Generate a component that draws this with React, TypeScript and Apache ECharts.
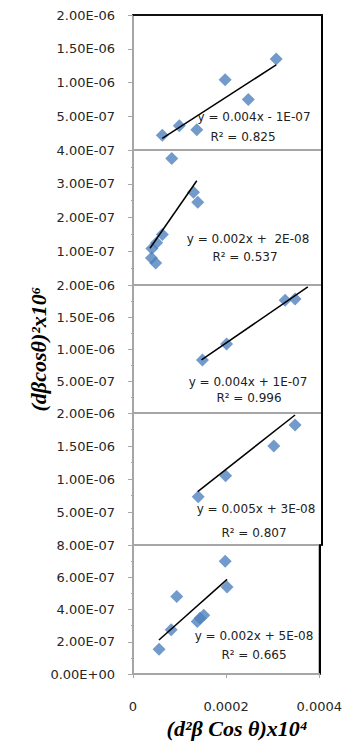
import React, { useEffect, useRef } from "react";
import * as echarts from "echarts";

// ---- data ----
const p1X = [6.2e-5, 9.8e-5, 1.35e-4, 1.95e-4, 2.44e-4, 3.03e-4];
const p1Y = [2.2e-7, 3.6e-7, 3.0e-7, 1.04e-6, 7.5e-7, 1.35e-6];
const p1Trend = [[6.2e-5, 1.73e-7], [3.03e-4, 1.26e-6]];

const p2X = [8.2e-5, 1.28e-4, 1.37e-4, 6.2e-5, 5.0e-5, 4.0e-5, 3.9e-5, 4.8e-5];
const p2Y = [3.75e-7, 2.75e-7, 2.45e-7, 1.5e-7, 1.25e-7, 1.08e-7, 8.0e-8, 6.5e-8];
const p2Trend = [[3.6e-5, 1.09e-7], [1.35e-4, 3.09e-7]];

const p3X = [1.47e-4, 1.98e-4, 3.22e-4, 3.43e-4];
const p3Y = [8.3e-7, 1.08e-6, 1.76e-6, 1.78e-6];
const p3Trend = [[1.45e-4, 8.3e-7], [3.7e-4, 1.97e-6]];

const p4X = [1.38e-4, 1.96e-4, 2.98e-4, 3.43e-4];
const p4Y = [7.3e-7, 1.05e-6, 1.5e-6, 1.82e-6];
const p4Trend = [[1.37e-4, 8.1e-7], [3.43e-4, 1.97e-6]];

const p5X = [5.6e-5, 8.2e-5, 9.4e-5, 1.38e-4, 1.44e-4, 1.52e-4, 1.98e-4, 2.02e-4];
const p5Y = [1.53e-7, 2.75e-7, 4.8e-7, 3.25e-7, 3.45e-7, 3.65e-7, 7.0e-7, 5.4e-7];
const p5Trend = [[5.57e-5, 2.11e-7], [2.02e-4, 5.87e-7]];

const yMax = [2e-6, 4e-7, 2e-6, 2e-6, 8e-7];
const yInterval = [5e-7, 1e-7, 5e-7, 5e-7, 2e-7];

const equations = [
  "y = 0.004x - 1E-07",
  "y = 0.002x +  2E-08",
  "y = 0.004x + 1E-07",
  "y = 0.005x + 3E-08",
  "y = 0.002x + 5E-08",
];
const r2Labels = ["R² = 0.825", "R² = 0.537", "R² = 0.996", "R² = 0.807", "R² = 0.665"];
const xTitle = "(d²β Cos θ)x10⁴";
const yTitle = "(dβcosθ)²x10⁶";

const panels = [
  { x: p1X, y: p1Y, t: p1Trend },
  { x: p2X, y: p2Y, t: p2Trend },
  { x: p3X, y: p3Y, t: p3Trend },
  { x: p4X, y: p4Y, t: p4Trend },
  { x: p5X, y: p5Y, t: p5Trend },
];

// ---- layout ----
const gridTops = [15, 150, 285, 413, 545];
const gridHeights = [135, 135, 128, 132, 129];
const eqPos = [
  [254, 117, 243, 137],
  [248, 239, 245, 257],
  [248, 382, 249, 398],
  [256, 509, 254, 533],
  [254, 636, 254, 655],
];

const fmtY = (v: number) => {
  const s = v.toExponential(2).toUpperCase();
  const m = s.match(/^(-?[\d.]+)E([+-])(\d+)$/);
  if (!m) return s;
  return `${m[1]}E${m[2]}${m[3].padStart(2, "0")}`;
};

export default function App() {
  const ref = useRef<HTMLDivElement>(null);
  useEffect(() => {
    if (!ref.current) return;
    const chart = echarts.init(ref.current, undefined, { renderer: "svg" });
    const tickFont = { fontFamily: "DejaVu Sans", fontSize: 13, color: "#262626" };
    const grids = panels.map((_, i) => ({
      left: 133,
      right: 23,
      top: gridTops[i],
      height: gridHeights[i],
      show: true,
      borderColor: "#a6a6a6",
      borderWidth: 2,
      backgroundColor: "#fff",
    }));
    const xAxes: any[] = panels.map((_, i) => ({
      type: "value",
      gridIndex: i,
      min: 0,
      max: 0.0004,
      interval: 0.0002,
      splitLine: { show: false },
      axisLine: { show: i === 4, onZero: false, lineStyle: { color: "#a6a6a6", width: 2 } },
      axisTick: { show: i === 4, length: 4, lineStyle: { color: "#a6a6a6" } },
      axisLabel: {
        show: i === 4,
        margin: 26,
        ...tickFont,
        formatter: (v: number) => (v === 0 ? "0" : v.toFixed(4)),
      },
    }));
    // black top edge of the first panel
    xAxes.push({
      type: "value",
      gridIndex: 0,
      position: "top",
      min: 0,
      max: 0.0004,
      splitLine: { show: false },
      axisLine: { show: true, onZero: false, lineStyle: { color: "#111", width: 2 } },
      axisTick: { show: false },
      axisLabel: { show: false },
    });
    const yAxes: any[] = [];
    panels.forEach((_, i) => {
      yAxes.push({
        type: "value",
        gridIndex: i,
        position: "left",
        min: 0,
        max: yMax[i],
        interval: yInterval[i],
        splitLine: { show: false },
        axisLine: { show: true, onZero: false, lineStyle: { color: "#a6a6a6", width: 2 } },
        axisTick: { show: true, length: 5, lineStyle: { color: "#a6a6a6" } },
        minorTick: { show: i > 0, splitNumber: 2, length: 2, lineStyle: { color: "#a6a6a6" } },
        axisLabel: {
          margin: 18,
          ...tickFont,
          showMinLabel: i === 4,
          showMaxLabel: true,
          formatter: (v: number) => fmtY(v),
        },
      });
      yAxes.push({
        type: "value",
        gridIndex: i,
        position: "right",
        min: 0,
        max: yMax[i],
        interval: yInterval[i],
        splitLine: { show: false },
        axisLine: { show: true, onZero: false, lineStyle: { color: "#000", width: 2 } },
        axisTick: { show: false },
        axisLabel: { show: false },
      });
    });
    const series: any[] = [];
    panels.forEach((p, i) => {
      series.push({
        type: "scatter",
        xAxisIndex: i,
        yAxisIndex: i * 2,
        symbol: "diamond",
        symbolSize: 13,
        itemStyle: { color: "#4F81BD" },
        data: p.x.map((x, k) => [x, p.y[k]]),
        z: 2,
      });
      series.push({
        type: "line",
        xAxisIndex: i,
        yAxisIndex: i * 2,
        showSymbol: false,
        symbol: "none",
        lineStyle: { color: "#000", width: 1.5 },
        data: p.t,
        z: 3,
      });
    });
    const graphic: any[] = [];
    eqPos.forEach((pos, i) => {
      graphic.push({
        type: "text",
        x: pos[0],
        y: pos[1],
        z: 10,
        style: {
          text: equations[i],
          font: "12px 'DejaVu Sans'",
          fill: "#222",
          align: "center",
          verticalAlign: "middle",
        },
      });
      graphic.push({
        type: "text",
        x: pos[2],
        y: pos[3],
        z: 10,
        style: {
          text: r2Labels[i],
          font: "12px 'DejaVu Sans'",
          fill: "#222",
          align: "center",
          verticalAlign: "middle",
        },
      });
    });
    graphic.push({
      type: "text",
      x: 237,
      y: 728,
      style: {
        text: xTitle,
        font: "italic bold 22px 'Liberation Serif'",
        fill: "#000",
        align: "center",
        verticalAlign: "middle",
      },
    });
    graphic.push({
      type: "text",
      x: 38,
      y: 349,
      rotation: Math.PI / 2,
      style: {
        text: yTitle,
        font: "italic bold 22px 'Liberation Serif'",
        fill: "#000",
        align: "center",
        verticalAlign: "middle",
      },
    });
    chart.setOption({
      animation: false,
      backgroundColor: "#fff",
      grid: grids,
      xAxis: xAxes,
      yAxis: yAxes,
      series,
      graphic,
    });
    return () => chart.dispose();
  }, []);
  return (
    <div
      ref={ref}
      style={{ position: "fixed", left: 0, top: 0, width: 345, height: 749, background: "#fff" }}
    />
  );
}
